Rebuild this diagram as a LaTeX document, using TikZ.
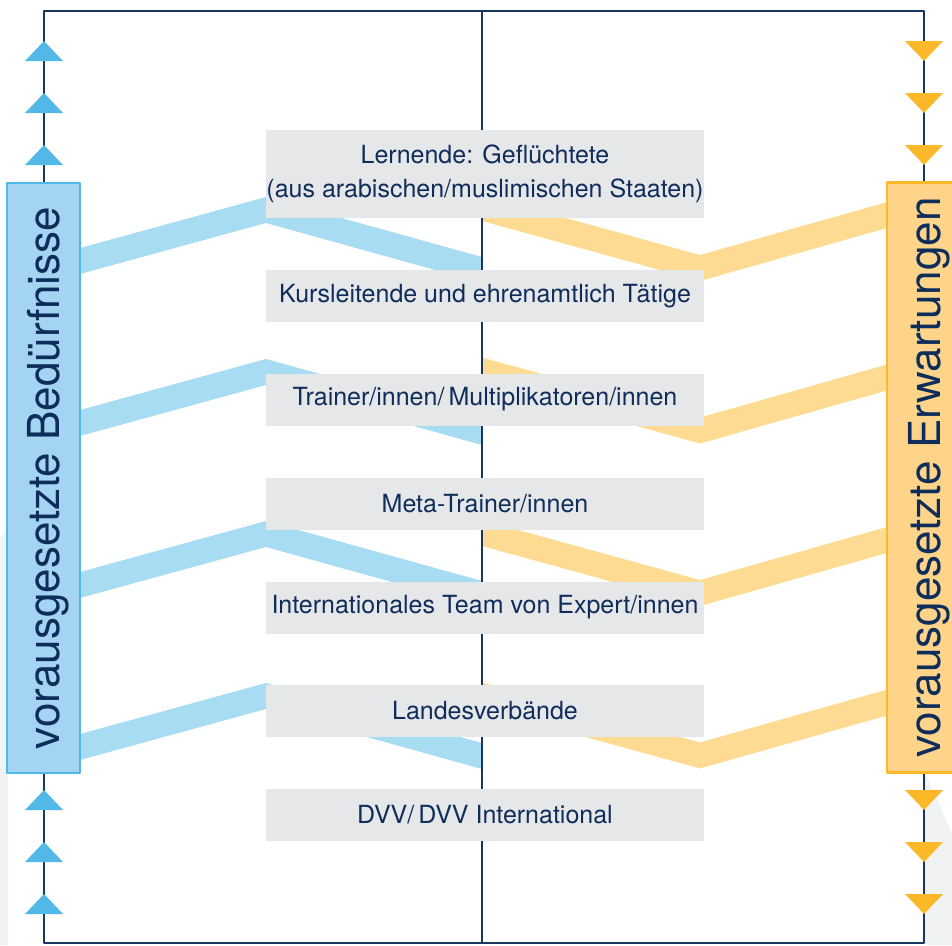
\documentclass[tikz,border=0pt]{standalone}
\usepackage{fontspec}
\setmainfont{TeX Gyre Heros}
\definecolor{nacht}{HTML}{17375E}
\definecolor{schrift}{HTML}{0F2D5A}
\definecolor{grau}{HTML}{E6E7E9}
\definecolor{hinter}{HTML}{F1F2F4}
\definecolor{blau}{HTML}{52B8E8}
\definecolor{hellblau}{HTML}{A8DCF3}
\definecolor{kastenblau}{HTML}{A3D4F1}
\definecolor{gelb}{HTML}{FBB829}
\definecolor{hellgelb}{HTML}{FDDB92}
\definecolor{kastengelb}{HTML}{FDD489}
\begin{document}
\begin{tikzpicture}[x=1pt, y=-1pt, line join=round, line cap=round,
	stufe/.style={fill=grau, text=schrift, inner sep=0pt, minimum width=438pt, minimum height=52pt, align=center, font=\fontsize{25}{34}\selectfont},
	seite/.style={rotate=90, line width=2.5pt, text=schrift, inner sep=0pt, minimum height=73pt, minimum width=590pt, text depth=0pt, font=\fontsize{44}{50}\selectfont}]
	\useasboundingbox (0,0) rectangle (952,945);
	% Hintergrund
	\fill[hinter] (0,537) -- (8,530) -- (8,945) -- (0,945) -- cycle;
	\fill[hinter] (925,773) -- (952,833) -- (952,945) -- (925,945) -- cycle;
	% Baender
	\foreach \a in {197,359,521,683}
		\fill[hellblau] (80,\a+51) -- (266,\a) -- (482,\a+60) -- (482,\a+86) -- (266,\a+26) -- (80,\a+77) -- cycle;
	\foreach \b in {255,417.5,580,742.5}
		\fill[hellgelb] (482,\b-60) -- (700,\b) -- (887,\b-53) -- (887,\b-27) -- (700,\b+26) -- (482,\b-34) -- cycle;
	% Rahmen
	\draw[nacht, line width=2.5pt, line cap=butt] (44,11) rectangle (924,943);
	\draw[nacht, line width=2.5pt, line cap=butt] (482,11) -- (482,943);
	% Ebenen
	\node[stufe, minimum height=88pt] (lern) at (485,174) {Lernende: Geflüchtete\\(aus arabischen/muslimischen Staaten)};
	\node[stufe] (kurs) at (485,296) {Kursleitende und ehrenamtlich Tätige};
	\node[stufe] (trainer) at (485,399.5) {Trainer/innen/\,Multiplikatoren/innen};
	\node[stufe] (meta) at (485,504) {Meta-Trainer/innen};
	\node[stufe] (team) at (485,607.5) {Internationales Team von Expert/innen};
	\node[stufe] (land) at (485,711) {Landesverbände};
	\node[stufe] (dvv) at (485,815) {DVV/\,DVV International};
	% Seitenkaesten
	\node[seite, draw=blau, fill=kastenblau] (bed) at (43.5,478) {vorausgesetzte Bedürfnisse};
	\node[seite, draw=gelb, fill=kastengelb, minimum height=75pt] (erw) at (924.5,477.5) {vorausgesetzte Erwartungen};
	% Pfeilspitzen
	\foreach \t in {41,93,145,790,842,894}{
		\fill[blau] (25,\t+20) -- (63,\t+20) -- (44,\t) -- cycle;
		\fill[gelb] (905,\t) -- (943,\t) -- (924,\t+20) -- cycle;
	}
\end{tikzpicture}
\end{document}
